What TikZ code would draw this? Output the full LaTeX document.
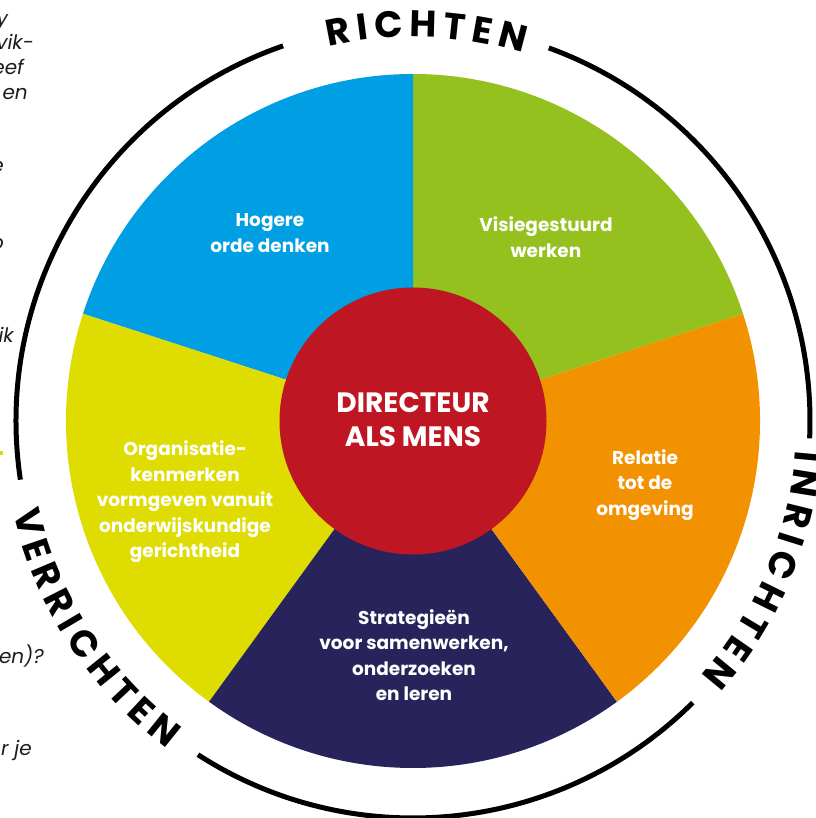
\documentclass[tikz,border=0pt]{standalone}
\usepackage{fontspec}
\setmainfont{Poppins}
\newfontfamily\ringfont[WordSpace=0.8]{Poppins}
\usetikzlibrary{decorations.text}
\definecolor{cblue}{RGB}{0,159,227}
\definecolor{cgreen}{RGB}{149,193,31}
\definecolor{corange}{RGB}{243,146,0}
\definecolor{cnavy}{RGB}{41,35,92}
\definecolor{cyellow}{RGB}{222,220,0}
\definecolor{cred}{RGB}{190,22,34}
\definecolor{fragc}{RGB}{29,29,27}
\begin{document}
\begin{tikzpicture}[x=1pt,y=1pt,
  lbl/.style={text=white,font=\fontsize{18.5}{25.5}\selectfont\bfseries,align=center,inner sep=0pt},
  title/.style={text=white,font=\fontsize{28}{34}\selectfont\bfseries,align=center,inner sep=0pt},
  frag/.style={font=\fontsize{20}{24}\selectfont\itshape,text=fragc,anchor=base east,inner sep=0pt},
  ringline/.style={line width=5pt},
  ringtext/.style={decorate,decoration={text along path,text align=center,text={|\ringfont\fontsize{37}{37}\selectfont\bfseries|#1}}}
]
\useasboundingbox (0,0) rectangle (815,818);
\clip (0,0) rectangle (815,818);
% left cut-off text fragments
\node[frag] (f1) at (8,792) {y};
\node[frag] (f2) at (34,768) {vik-};
\node[frag] (f3) at (24,743) {eef};
\node[frag] (f4) at (28,718) {en};
\node[frag] (f5) at (4,645) {e};
\node[frag] (f6) at (4,568) {o};
\node[frag] (f7) at (14,475) {ik};
\node[frag] (f8) at (44,154) {en)?};
\node[frag] (f9) at (32,62) {r je};
\fill[cyellow] (0,363) rectangle (3,367);
\begin{scope}[shift={(413,397)}]
  \fill[cgreen]  (0,0) -- (18:347)   arc[start angle=18,end angle=90,radius=347] -- cycle;
  \fill[cblue]   (0,0) -- (90:347)   arc[start angle=90,end angle=162,radius=347] -- cycle;
  \fill[cyellow] (0,0) -- (162:347)  arc[start angle=162,end angle=234,radius=347] -- cycle;
  \fill[cnavy]   (0,0) -- (234:347)  arc[start angle=234,end angle=306,radius=347] -- cycle;
  \fill[corange] (0,0) -- (-54:347)  arc[start angle=-54,end angle=18,radius=347] -- cycle;
  \fill[cred] (0,0) circle[radius=133.5];
  \draw[ringline] (70:397) arc[start angle=70,end angle=-2.5,radius=397];
  \draw[ringline] (-45.2:397) arc[start angle=-45.2,end angle=-122.8,radius=397];
  \draw[ringline] (188.5:397) arc[start angle=188.5,end angle=109.1,radius=397];
  \path[ringtext={R I C H T E N}] (118:384) arc[start angle=118,end angle=58,radius=384];
  \path[ringtext={I N R I C H T E N}] (7:384) arc[start angle=7,end angle=-53,radius=384];
  \path[ringtext={V E R R I C H T E N}] (178:410) arc[start angle=178,end angle=248,radius=410];
\end{scope}
\node[lbl] (hogere) at (270,585) {Hogere\\orde denken};
\node[lbl] (visie) at (546,581) {Visiegestuurd\\werken};
\node[lbl] (relatie) at (645,333) {Relatie\\tot de\\omgeving};
\node[lbl] (strat) at (414,163) {Strategieën\\voor samenwerken,\\onderzoeken\\en leren};
\node[lbl] (org) at (185,316) {Organisatie-\\kenmerken\\vormgeven vanuit\\onderwijskundige\\gerichtheid};
\node[title] (dir) at (413,398) {DIRECTEUR\\ALS MENS};
\end{tikzpicture}
\end{document}
